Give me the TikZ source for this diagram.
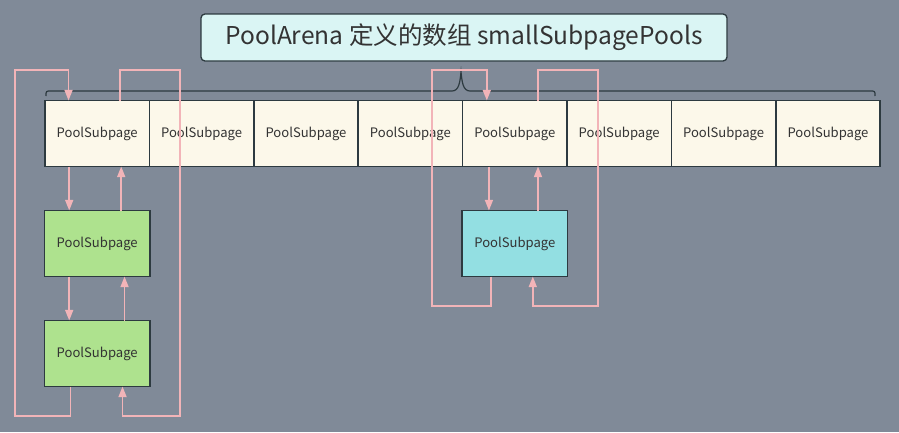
\documentclass[tikz,border=0pt]{standalone}
\usepackage{fontspec}
\setmainfont{Noto Sans CJK SC}
\usetikzlibrary{positioning, arrows.meta}

\begin{document}
\begin{tikzpicture}[x=0.75pt, y=-0.75pt,
    cell/.style={draw=boxline, line width=1.1pt, fill=cellfill, minimum width=78.3pt, minimum height=49.5pt, inner sep=0pt, outer sep=0pt, font=\fontsize{9.8}{11}\selectfont, text=txt},
    page/.style={cell, minimum width=79pt},
    link/.style={linkcol, line width=1.3pt, -{Triangle[length=8pt, width=6pt]}},
    plain/.style={linkcol, line width=1.3pt}]

% Define colors
\definecolor{bgcol}{RGB}{128, 138, 152}
\definecolor{boxline}{RGB}{45, 58, 64}
\definecolor{cellfill}{RGB}{252, 248, 234}
\definecolor{greenfill}{RGB}{174, 226, 142}
\definecolor{cyanfill}{RGB}{147, 223, 226}
\definecolor{titlefill}{RGB}{218, 245, 244}
\definecolor{linkcol}{RGB}{242, 180, 184}
\definecolor{txt}{RGB}{51, 51, 51}

% Background
\fill[bgcol] (0, 0) rectangle (899, 432);
\useasboundingbox (0, 0) rectangle (899, 432);

% Title
\node[draw=boxline, line width=1pt, fill=titlefill, rounded corners=3pt, minimum width=394.5pt, minimum height=35.25pt, text=txt, font=\fontsize{18.4}{20}\selectfont] (title) at (464, 37.5) {PoolArena 定义的数组 smallSubpagePools};

% Draw the array cells
\node[cell] (c1) at (97.2, 133.5) {PoolSubpage};
\node[cell, right=0pt of c1] (c2) {PoolSubpage};
\node[cell, right=0pt of c2] (c3) {PoolSubpage};
\node[cell, right=0pt of c3] (c4) {PoolSubpage};
\node[cell, right=0pt of c4] (c5) {PoolSubpage};
\node[cell, right=0pt of c5] (c6) {PoolSubpage};
\node[cell, right=0pt of c6] (c7) {PoolSubpage};
\node[cell, right=0pt of c7] (c8) {PoolSubpage};

% Brace over the array
\draw[boxline, line width=0.9pt] (46, 96) .. controls (46, 91) .. (51, 91) -- (452, 91)
  .. controls (459, 91) and (460, 82) .. (461, 72)
  .. controls (462, 82) and (463, 91) .. (470, 91) -- (870, 91)
  .. controls (875, 91) .. (875, 96);

% Draw the linked pages
\node[page, fill=greenfill, below=33pt of c1] (g1) {PoolSubpage};
\node[page, fill=greenfill, below=33pt of g1] (g2) {PoolSubpage};
\node[page, fill=cyanfill, below=33pt of c5] (s1) {PoolSubpage};

% Corners of the loops
\coordinate (lt) at (15, 70);
\coordinate (lb) at (15, 416);
\coordinate (rt) at (180, 70);
\coordinate (rb) at (180, 416);
\coordinate (mlt) at (432, 70);
\coordinate (mlb) at (432, 306);
\coordinate (mrt) at (598, 70);
\coordinate (mrb) at (598, 306);

% Left list
\draw[link] ([xshift=-21pt]c1.south) -- ([xshift=-21pt]g1.north);
\draw[link] ([xshift=18pt]g1.north) -- ([xshift=18pt]c1.south);
\draw[link] ([xshift=-21pt]g1.south) -- ([xshift=-21pt]g2.north);
\draw[link] ([xshift=20.5pt]g2.north) -- ([xshift=20.5pt]g1.south);
\draw[link] ([xshift=-20pt]g2.south) |- (lb) -- (lt) -| ([xshift=-21.5pt]c1.north);
\draw[link] ([xshift=17pt]c1.north) |- (rt) -- (rb) -| ([xshift=19pt]g2.south);

% Middle list
\draw[link] ([xshift=-19.4pt]c5.south) -- ([xshift=-19.4pt]s1.north);
\draw[link] ([xshift=17.4pt]s1.north) -- ([xshift=17.4pt]c5.south);
\draw[link] ([xshift=-18pt]s1.south) |- (mlb) -- (mlt) -| ([xshift=-21pt]c5.north);
\draw[link] ([xshift=17.4pt]c5.north) |- (mrt) -- (mrb) -| ([xshift=13.5pt]s1.south);

\end{tikzpicture}
\end{document}
